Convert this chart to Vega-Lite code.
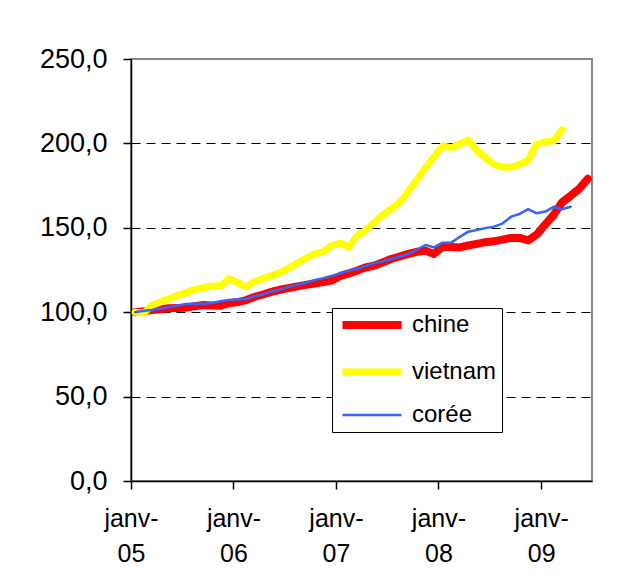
{
  "$schema": "https://vega.github.io/schema/vega-lite/v6.json",
  "width": 461,
  "height": 422,
  "autosize": "none",
  "padding": {"left": 131, "top": 59, "right": 43, "bottom": 98},
  "background": "white",
  "config": {
    "font": "Liberation Sans",
    "view": {"stroke": "#888888", "strokeWidth": 2}
  },
  "data": {
    "values": [
      {"d":"2005-01-16","s":"chine","v":100},{"d":"2005-02-16","s":"chine","v":100.5},{"d":"2005-03-16","s":"chine","v":101.3},{"d":"2005-04-16","s":"chine","v":101.8},{"d":"2005-05-16","s":"chine","v":102.3},{"d":"2005-06-16","s":"chine","v":102.5},{"d":"2005-07-16","s":"chine","v":102.7},{"d":"2005-08-16","s":"chine","v":103.5},{"d":"2005-09-16","s":"chine","v":104.3},{"d":"2005-10-16","s":"chine","v":104},{"d":"2005-11-16","s":"chine","v":103.8},{"d":"2005-12-16","s":"chine","v":105.3},
      {"d":"2006-01-16","s":"chine","v":106},{"d":"2006-02-16","s":"chine","v":107.2},{"d":"2006-03-16","s":"chine","v":109},{"d":"2006-04-16","s":"chine","v":110.5},{"d":"2006-05-16","s":"chine","v":112},{"d":"2006-06-16","s":"chine","v":113.3},{"d":"2006-07-16","s":"chine","v":114.3},{"d":"2006-08-16","s":"chine","v":115.3},{"d":"2006-09-16","s":"chine","v":116.2},{"d":"2006-10-16","s":"chine","v":117},{"d":"2006-11-16","s":"chine","v":117.8},{"d":"2006-12-16","s":"chine","v":118.7},
      {"d":"2007-01-16","s":"chine","v":121.5},{"d":"2007-02-16","s":"chine","v":123},{"d":"2007-03-16","s":"chine","v":124.5},{"d":"2007-04-16","s":"chine","v":126.5},{"d":"2007-05-16","s":"chine","v":127.5},{"d":"2007-06-16","s":"chine","v":129.5},{"d":"2007-07-16","s":"chine","v":131.5},{"d":"2007-08-16","s":"chine","v":133},{"d":"2007-09-16","s":"chine","v":134.5},{"d":"2007-10-16","s":"chine","v":135.8},{"d":"2007-11-16","s":"chine","v":136.4},{"d":"2007-12-16","s":"chine","v":134.5},
      {"d":"2008-01-16","s":"chine","v":138.8},{"d":"2008-02-16","s":"chine","v":138.6},{"d":"2008-03-16","s":"chine","v":138.4},{"d":"2008-04-16","s":"chine","v":139.5},{"d":"2008-05-16","s":"chine","v":140.5},{"d":"2008-06-16","s":"chine","v":141.5},{"d":"2008-07-16","s":"chine","v":142},{"d":"2008-08-16","s":"chine","v":143},{"d":"2008-09-16","s":"chine","v":144},{"d":"2008-10-16","s":"chine","v":144},{"d":"2008-11-16","s":"chine","v":142.5},{"d":"2008-12-16","s":"chine","v":146},
      {"d":"2009-01-16","s":"chine","v":152},{"d":"2009-02-16","s":"chine","v":158},{"d":"2009-03-16","s":"chine","v":165},{"d":"2009-04-16","s":"chine","v":169},{"d":"2009-05-16","s":"chine","v":173},{"d":"2009-06-16","s":"chine","v":179},

      {"d":"2005-01-16","s":"vietnam","v":100},{"d":"2005-02-16","s":"vietnam","v":99.5},{"d":"2005-03-16","s":"vietnam","v":104},{"d":"2005-04-16","s":"vietnam","v":106},{"d":"2005-05-16","s":"vietnam","v":108},{"d":"2005-06-16","s":"vietnam","v":110},{"d":"2005-07-16","s":"vietnam","v":111.5},{"d":"2005-08-16","s":"vietnam","v":113.5},{"d":"2005-09-16","s":"vietnam","v":114.5},{"d":"2005-10-16","s":"vietnam","v":115.5},{"d":"2005-11-16","s":"vietnam","v":115.5},{"d":"2005-12-16","s":"vietnam","v":119.8},
      {"d":"2006-01-16","s":"vietnam","v":117.5},{"d":"2006-02-16","s":"vietnam","v":115},{"d":"2006-03-16","s":"vietnam","v":118},{"d":"2006-04-16","s":"vietnam","v":120},{"d":"2006-05-16","s":"vietnam","v":121.5},{"d":"2006-06-16","s":"vietnam","v":123.5},{"d":"2006-07-16","s":"vietnam","v":126},{"d":"2006-08-16","s":"vietnam","v":129},{"d":"2006-09-16","s":"vietnam","v":132},{"d":"2006-10-16","s":"vietnam","v":134.5},{"d":"2006-11-16","s":"vietnam","v":135.7},{"d":"2006-12-16","s":"vietnam","v":139.5},
      {"d":"2007-01-16","s":"vietnam","v":141},{"d":"2007-02-16","s":"vietnam","v":138.5},{"d":"2007-03-16","s":"vietnam","v":145},{"d":"2007-04-16","s":"vietnam","v":148.5},{"d":"2007-05-16","s":"vietnam","v":153},{"d":"2007-06-16","s":"vietnam","v":157.5},{"d":"2007-07-16","s":"vietnam","v":161},{"d":"2007-08-16","s":"vietnam","v":165},{"d":"2007-09-16","s":"vietnam","v":171.5},{"d":"2007-10-16","s":"vietnam","v":178.5},{"d":"2007-11-16","s":"vietnam","v":185.5},{"d":"2007-12-16","s":"vietnam","v":192},
      {"d":"2008-01-16","s":"vietnam","v":198.5},{"d":"2008-02-16","s":"vietnam","v":197.5},{"d":"2008-03-16","s":"vietnam","v":199.5},{"d":"2008-04-16","s":"vietnam","v":202},{"d":"2008-05-16","s":"vietnam","v":196},{"d":"2008-06-16","s":"vietnam","v":191.5},{"d":"2008-07-16","s":"vietnam","v":187.5},{"d":"2008-08-16","s":"vietnam","v":186},{"d":"2008-09-16","s":"vietnam","v":186},{"d":"2008-10-16","s":"vietnam","v":187.5},{"d":"2008-11-16","s":"vietnam","v":190},{"d":"2008-12-16","s":"vietnam","v":199.5},
      {"d":"2009-01-16","s":"vietnam","v":201},{"d":"2009-02-16","s":"vietnam","v":201.5},{"d":"2009-03-16","s":"vietnam","v":208},

      {"d":"2005-01-16","s":"corée","v":100},{"d":"2005-02-16","s":"corée","v":100.8},{"d":"2005-03-16","s":"corée","v":101.3},{"d":"2005-04-16","s":"corée","v":102},{"d":"2005-05-16","s":"corée","v":103},{"d":"2005-06-16","s":"corée","v":104},{"d":"2005-07-16","s":"corée","v":104.8},{"d":"2005-08-16","s":"corée","v":105},{"d":"2005-09-16","s":"corée","v":105},{"d":"2005-10-16","s":"corée","v":105.5},{"d":"2005-11-16","s":"corée","v":106.5},{"d":"2005-12-16","s":"corée","v":107.3},
      {"d":"2006-01-16","s":"corée","v":107.6},{"d":"2006-02-16","s":"corée","v":107.8},{"d":"2006-03-16","s":"corée","v":109.5},{"d":"2006-04-16","s":"corée","v":110.5},{"d":"2006-05-16","s":"corée","v":112.3},{"d":"2006-06-16","s":"corée","v":113.5},{"d":"2006-07-16","s":"corée","v":115},{"d":"2006-08-16","s":"corée","v":116.3},{"d":"2006-09-16","s":"corée","v":117.5},{"d":"2006-10-16","s":"corée","v":119},{"d":"2006-11-16","s":"corée","v":120.2},{"d":"2006-12-16","s":"corée","v":121.5},
      {"d":"2007-01-16","s":"corée","v":123},{"d":"2007-02-16","s":"corée","v":124.6},{"d":"2007-03-16","s":"corée","v":125.6},{"d":"2007-04-16","s":"corée","v":127.3},{"d":"2007-05-16","s":"corée","v":129},{"d":"2007-06-16","s":"corée","v":130},{"d":"2007-07-16","s":"corée","v":131.5},{"d":"2007-08-16","s":"corée","v":133},{"d":"2007-09-16","s":"corée","v":134.5},{"d":"2007-10-16","s":"corée","v":137},{"d":"2007-11-16","s":"corée","v":139.8},{"d":"2007-12-16","s":"corée","v":138.4},
      {"d":"2008-01-16","s":"corée","v":141.2},{"d":"2008-02-16","s":"corée","v":141.2},{"d":"2008-03-16","s":"corée","v":144.5},{"d":"2008-04-16","s":"corée","v":147.7},{"d":"2008-05-16","s":"corée","v":148.7},{"d":"2008-06-16","s":"corée","v":149.8},{"d":"2008-07-16","s":"corée","v":150.7},{"d":"2008-08-16","s":"corée","v":152.5},{"d":"2008-09-16","s":"corée","v":156.6},{"d":"2008-10-16","s":"corée","v":158.2},{"d":"2008-11-16","s":"corée","v":161.1},{"d":"2008-12-16","s":"corée","v":158.6},
      {"d":"2009-01-16","s":"corée","v":159.6},{"d":"2009-02-16","s":"corée","v":162.5},{"d":"2009-03-16","s":"corée","v":161},{"d":"2009-04-16","s":"corée","v":162.5}
    ]
  },
  "mark": {"type": "line", "strokeCap": "round", "strokeJoin": "round"},
  "encoding": {
    "x": {
      "field": "d",
      "type": "temporal",
      "scale": {"type": "utc", "domain": [{"year": 2005, "month": 1, "date": 1, "utc": true}, {"year": 2009, "month": 7, "date": 1, "utc": true}]},
      "axis": {
        "title": null,
        "grid": false,
        "values": [
          {"year": 2005, "month": 1, "date": 1, "utc": true},
          {"year": 2006, "month": 1, "date": 1, "utc": true},
          {"year": 2007, "month": 1, "date": 1, "utc": true},
          {"year": 2008, "month": 1, "date": 1, "utc": true},
          {"year": 2009, "month": 1, "date": 1, "utc": true}
        ],
        "labelExpr": "['janv-', utcFormat(datum.value, '%y')]",
        "labelFont": "Liberation Sans",
        "labelFontSize": 25,
        "labelColor": "black",
        "labelPadding": 17,
        "labelLineHeight": 35,
        "labelAlign": "center",
        "labelBaseline": "top",
        "labelFlush": false,
        "labelOverlap": false,
        "tickSize": 8,
        "tickColor": "black",
        "tickWidth": 1.5,
        "domainColor": "black",
        "domainWidth": 1.5
      }
    },
    "y": {
      "field": "v",
      "type": "quantitative",
      "scale": {"domain": [0, 250], "nice": false, "zero": true},
      "axis": {
        "title": null,
        "values": [0, 50, 100, 150, 200, 250],
        "labelExpr": "replace(format(datum.value, '.1f'), '.', ',')",
        "labelFont": "Liberation Sans",
        "labelFontSize": 27,
        "labelColor": "black",
        "labelPadding": 16,
        "tickSize": 8,
        "tickColor": "black",
        "tickWidth": 1.5,
        "domainColor": "black",
        "domainWidth": 1.5,
        "grid": true,
        "gridColor": "black",
        "gridDash": [9, 6],
        "gridWidth": 1,
        "gridOpacity": {"condition": {"test": "datum.value === 0 || datum.value === 250", "value": 0}, "value": 1}
      }
    },
    "color": {
      "field": "s",
      "type": "nominal",
      "scale": {"domain": ["chine", "vietnam", "corée"], "range": ["#ff0000", "#ffff00", "#3366ff"]},
      "legend": {
        "orient": "none",
        "legendX": 201,
        "legendY": 249,
        "title": null,
        "strokeColor": "black",
        "fillColor": "white",
        "padding": 5,
        "labelFont": "Liberation Sans",
        "labelFontSize": 24,
        "labelColor": "black",
        "symbolType": "M-4,0H4",
        "symbolSize": 218,
        "rowPadding": 17,
        "symbolOffset": 23,
        "labelOffset": 28
      }
    },
    "strokeWidth": {
      "field": "s",
      "type": "nominal",
      "scale": {"type": "ordinal", "domain": ["chine", "vietnam", "corée"], "range": [8, 7, 2.5]},
      "legend": {
        "orient": "none",
        "legendX": 201,
        "legendY": 249,
        "title": null
      }
    }
  }
}
